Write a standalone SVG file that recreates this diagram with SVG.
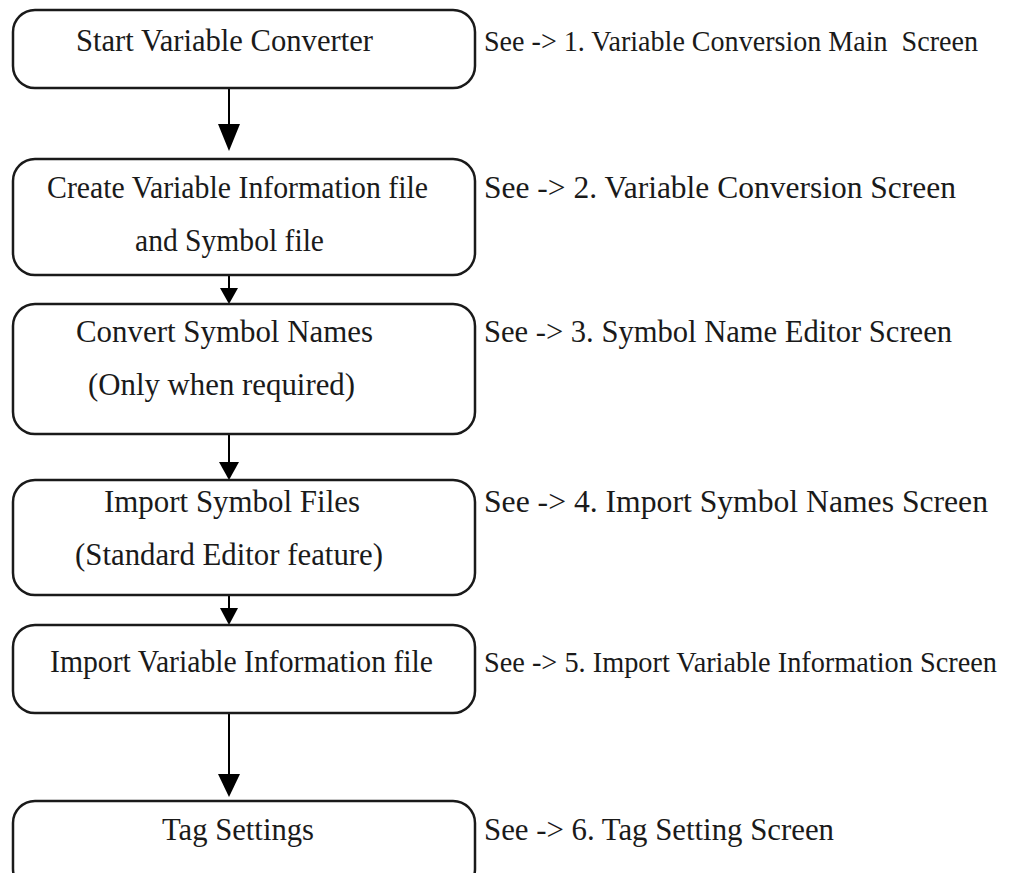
<svg xmlns="http://www.w3.org/2000/svg" width="1009" height="873" viewBox="0 0 1009 873">
<style>
.box{fill:#fff;stroke:#1a1a1a;stroke-width:2.5}
.t{font-family:"Liberation Serif","Times New Roman",serif;font-size:31px;fill:#1a1a1a}
.n{font-size:29px}
.c{stroke:#000;stroke-width:2;fill:none}
</style>
<rect width="1009" height="873" fill="#fff"/>
<g id="connectors">
<line class="c" x1="229" y1="88" x2="229" y2="124"/>
<path d="M218,124 L240,124 L229,151 Z"/>
<line class="c" x1="229" y1="275" x2="229" y2="289"/>
<path d="M220,288 L238,288 L229,304 Z"/>
<line class="c" x1="229" y1="434" x2="229" y2="463"/>
<path d="M219,462 L239,462 L229,480 Z"/>
<line class="c" x1="229" y1="595" x2="229" y2="609"/>
<path d="M220,608 L238,608 L229,625 Z"/>
<line class="c" x1="229" y1="713" x2="229" y2="775"/>
<path d="M218,774 L240,774 L229,797 Z"/>
</g>
<g id="n1">
<rect class="box" x="13" y="10" width="462" height="78" rx="22"/>
<text class="t" x="76" y="51" textLength="297" lengthAdjust="spacingAndGlyphs">Start Variable Converter</text>
</g>
<g id="n2">
<rect class="box" x="13" y="159" width="462" height="116" rx="22"/>
<text class="t" x="47" y="198" textLength="381" lengthAdjust="spacingAndGlyphs">Create Variable Information file</text>
<text class="t" x="135" y="251" textLength="189" lengthAdjust="spacingAndGlyphs">and Symbol file</text>
</g>
<g id="n3">
<rect class="box" x="13" y="304" width="462" height="130" rx="22"/>
<text class="t" x="76" y="342" textLength="297" lengthAdjust="spacingAndGlyphs">Convert Symbol Names</text>
<text class="t" x="88" y="395" textLength="267" lengthAdjust="spacingAndGlyphs">(Only when required)</text>
</g>
<g id="n4">
<rect class="box" x="13" y="480" width="462" height="115" rx="22"/>
<text class="t" x="104" y="512" textLength="256" lengthAdjust="spacingAndGlyphs">Import Symbol Files</text>
<text class="t" x="75" y="565" textLength="308" lengthAdjust="spacingAndGlyphs">(Standard Editor feature)</text>
</g>
<g id="n5">
<rect class="box" x="13" y="625" width="462" height="88" rx="22"/>
<text class="t" x="50" y="672" textLength="383" lengthAdjust="spacingAndGlyphs">Import Variable Information file</text>
</g>
<g id="n6">
<rect class="box" x="13" y="801" width="462" height="90" rx="22"/>
<text class="t" x="162" y="840" textLength="152" lengthAdjust="spacingAndGlyphs">Tag Settings</text>
</g>
<g id="labels">
<text class="t n" x="484" y="51" textLength="494" lengthAdjust="spacingAndGlyphs" xml:space="preserve">See -&gt; 1. Variable Conversion Main  Screen</text>
<text class="t" x="484" y="198" textLength="472" lengthAdjust="spacingAndGlyphs">See -&gt; 2. Variable Conversion Screen</text>
<text class="t" x="484" y="342" textLength="468" lengthAdjust="spacingAndGlyphs">See -&gt; 3. Symbol Name Editor Screen</text>
<text class="t" x="484" y="512" textLength="504" lengthAdjust="spacingAndGlyphs">See -&gt; 4. Import Symbol Names Screen</text>
<text class="t n" x="484" y="672" textLength="513" lengthAdjust="spacingAndGlyphs">See -&gt; 5. Import Variable Information Screen</text>
<text class="t" x="484" y="840" textLength="350" lengthAdjust="spacingAndGlyphs">See -&gt; 6. Tag Setting Screen</text>
</g>
</svg>
